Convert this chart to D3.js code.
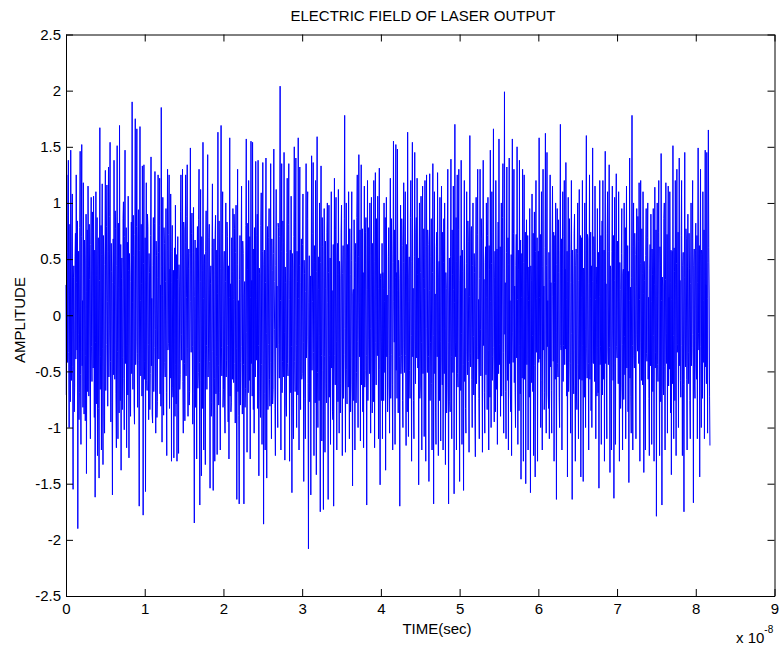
<!DOCTYPE html>
<html>
<head>
<meta charset="utf-8">
<script src="https://cdn.jsdelivr.net/npm/d3@7"></script>
<style>
  body { margin: 0; background: #fff; }
  svg text { font-family: "Liberation Sans", Arial, Helvetica, sans-serif; fill: #000; }
</style>
</head>
<body>
<svg id="chart" width="783" height="647"></svg>
<script>
// Sampled electric field amplitude, one sample every 0.05 ns.
// Split by time span: ampT0 covers 0–1e-8 s, ampT1 covers 1e-8–2e-8 s, and so on.
const sampleStep = 5e-11;

const ampT0 = [
  0.27, -0.71, 1.25, 0.56, -0.42, 0.89, 1.38, -0.33, -1.0, 0.18, 0.81, -0.77, 1.47, 0.41, -0.58, 0.66, 1.08, -0.46, -1.55, 0.34,
  0.44, -0.86, -0.64, 0.52, 0.73, -0.39, 1.25, 0.29, -0.31, 0.84, -1.9, -0.17, 0.57, -0.93, -0.69, 0.78, 1.46, -0.53, -1.15, 0.7,
  1.52, -0.45, 0.13, -0.82, 1.18, 0.26, -0.88, 0.67, 0.49, -0.94, -0.36, 0.9, -1.41, 0.21, 0.76, -0.68, 1.15, 0.43, -0.72, 0.81,
  0.32, -0.55, -1.1, 0.63, 1.05, -0.28, -0.59, 0.92, 0.74, -0.47, 1.06, 0.15, -0.91, 0.58, -1.62, -0.24, 1.1, -0.79, 0.35, 0.87,
  -1.25, 0.42, 0.69, -0.83, -1.45, 0.31, 1.67, -0.66, -0.37, 0.8, -1.2, 0.54, 1.17, -0.3, -1.33, 0.71, 0.52, -0.89, -1.05, 0.45,
  1.29, -0.67, -0.26, 0.79, 1.16, 0.12, -0.81, 0.57, 1.32, -0.55, -0.14, 0.88, 1.54, -0.41, -0.95, 0.64, 0.39, -0.78, -1.6, 0.29,
  0.68, -0.53, 1.38, 0.27, -0.57, 0.93, 0.77, -0.7, -1.18, 0.44, 1.51, -0.32, -1.1, 0.82, 0.25, -0.87, 1.69, 0.16, -0.76, 0.63,
  -1.38, 0.33, 0.51, -0.84, -0.38, 0.86, 1.01, -0.56, -1.02, 0.7, 1.47, -0.43, 0.19, 0.78, -1.18, -0.27, 0.65, -0.71, 1.06, 0.4,
  -1.27, 0.55, 0.36, -0.69, -0.9, 0.3, 0.83, -0.52, 1.9, 0.11, -0.66, 0.89, 0.53, -0.8, -0.97, 0.72, 1.75, -0.44, -0.23, 0.79,
  1.66, -0.34, -0.82, 0.67, 0.94, -0.4, -1.7, 0.58, 1.68, 0.13, -0.54, 0.81, 0.28, -0.72, 1.33, 0.26, -1.78, 0.46, 1.34, -0.57
];
const ampT1 = [
  -0.41, 0.69, -1.57, 0.31, 1.18, -0.58, -0.67, 0.9, 0.79, -0.26, -0.93, 0.55, 0.38, -0.84, -0.52, 0.71, 1.41, -0.45, 0.15, -0.88,
  -0.96, 0.44, 0.87, -0.68, -0.29, 0.82, 1.28, -0.13, -1.05, 0.66, 0.53, -0.91, -0.77, 0.34, 1.25, 0.56, -0.39, 0.8, 1.22, -0.7,
  0.27, -0.81, 1.85, 0.43, -1.13, 0.18, 1.05, -0.57, -0.89, 0.78, 0.64, -0.42, -0.55, 0.3, 0.95, -0.69, -1.25, 0.58, 1.3, -0.31,
  -0.25, 0.72, 1.25, -0.83, 0.41, -0.56, 1.08, 0.29, -1.3, 0.57, 0.8, -0.64, -0.73, 0.4, -1.27, 0.14, 0.6, -0.9, 0.98, -0.44,
  -0.79, 0.54, -1.3, 0.32, 0.7, -0.85, -1.23, 0.45, 0.26, -0.66, -0.53, 0.92, 1.25, -0.17, -0.4, 0.68, 1.3, -0.59, -1.05, 0.83,
  0.76, -0.43, -0.94, 0.65, 1.25, -0.54, 0.16, 0.88, 1.34, -0.3, -0.9, 0.42, 0.59, -0.8, -0.68, 0.55, 1.49, 0.12, -0.33, 0.73,
  0.91, -0.28, -0.97, 0.56, 0.96, -0.7, -1.85, 0.17, 0.67, -0.82, -0.44, 0.6, -1.28, 0.33, 0.79, -0.65, -0.51, 0.85, 1.3, -0.42,
  -1.69, 0.3, 1.12, -0.58, -1.43, 0.7, 0.4, -0.83, 1.54, 0.15, -1.2, 0.46, 0.54, -0.71, -1.33, 0.57, 0.93, -0.27, -0.66, 0.84,
  1.43, -0.55, -0.3, 0.69, 0.81, -0.41, -1.54, 0.28, 0.44, -0.9, -0.78, 0.6, 1.17, -0.32, -1.56, 0.43, 0.68, -0.56, -1.3, 0.72,
  0.89, -0.7, -0.37, 0.58, -1.24, 0.19, 1.63, -0.45, -0.8, 0.84, 0.51, -0.69, -1.2, 0.42, 1.69, -0.29, -0.54, 0.73, 1.1, -0.82
];
const ampT2 = [
  -0.66, 0.43, 0.57, -0.81, -1.05, 0.3, 1.0, -0.55, -0.4, 0.83, 0.7, -0.27, -0.95, 0.44, -1.28, 0.16, 1.58, -0.72, 0.28, -0.86,
  -0.78, 0.69, 0.39, -0.57, 0.95, 0.14, -0.6, 0.9, 0.77, -0.43, -0.96, 0.56, 0.98, -0.3, -1.64, 0.45, 1.3, -0.68, 0.13, -0.89,
  -1.68, 0.32, 0.71, -0.8, -0.42, 0.58, 1.15, -0.28, -0.88, 0.66, 0.55, -0.44, -1.68, 0.18, 0.3, -0.82, -0.65, 0.8, 1.57, -0.15,
  -1.22, 0.41, 0.82, -0.69, 1.2, 0.27, -0.58, 0.7, -1.28, 0.16, 1.55, -0.43, 0.31, -0.72, 1.54, -0.12, -0.84, 0.59, -1.05, 0.78,
  0.67, -0.55, 1.37, 0.14, -0.4, 0.71, 0.9, -0.83, 1.38, -0.27, -1.43, 0.42, 0.37, -0.68, -0.91, 0.8, 1.09, -0.44, -1.15, 0.57,
  1.36, -0.31, -1.86, 0.45, 0.58, -0.7, -1.2, 0.29, 1.4, -0.16, -1.45, 0.56, 0.79, -0.84, -0.26, 0.69, 0.95, -0.57, -0.81, 0.43,
  1.35, -0.42, -1.1, 0.68, 0.4, -0.79, -0.66, 0.55, 1.48, 0.3, -0.13, -0.83, -1.25, 0.44, 1.12, -0.29, 0.26, -0.71, -1.0, 0.82,
  0.78, -0.26, -0.56, 0.7, 2.04, 0.13, -1.2, 0.57, 1.35, -0.69, -0.41, 0.84, 0.65, -0.55, 1.45, -0.15, -1.29, 0.43, 0.29, -0.8,
  -0.9, 0.56, 1.22, -0.43, -0.54, 0.81, 1.35, 0.14, -1.3, 0.31, 0.58, -0.69, 1.06, -0.28, -1.58, 0.55, 0.42, -0.82, -1.1, 0.7,
  1.5, -0.41, -0.68, 0.83, 1.4, -0.27, -1.0, 0.57, 0.3, -0.71, 1.58, 0.15, -1.2, 0.44, 1.32, -0.56, -0.84, 0.29, 0.68, -0.57
];
const ampT3 = [
  -0.52, 0.63, 1.08, -0.24, -1.48, 0.49, 0.37, -0.74, -1.1, 0.21, 1.35, -0.38, -0.19, 0.86, 1.1, -0.61, -2.08, 0.11, 0.53, -0.77,
  -0.64, 0.35, -1.6, 0.26, 1.42, -0.49, 0.12, 0.73, 1.36, -0.33, -1.25, 0.62, 0.47, -0.78, 1.2, 0.19, -1.42, 0.39, 1.59, -0.51,
  -1.0, 0.23, 0.52, -0.76, 1.0, -0.18, -1.75, 0.47, 1.33, -0.36, -1.12, 0.87, 0.61, -0.49, -1.73, 0.34, 0.95, -0.37, -1.22, 0.66,
  0.24, -0.61, -0.78, 0.74, 1.0, 0.11, -1.64, 0.38, 0.98, -0.73, -0.36, 0.51, -1.15, 0.33, 1.1, -0.47, 0.22, -0.86, -0.93, 0.63,
  -1.7, 0.19, 1.22, -0.36, -0.62, 0.76, 1.05, -0.23, -1.2, 0.49, 0.64, -0.77, 1.12, 0.36, -1.05, 0.48, 0.33, -0.87, -0.61, 0.74,
  0.98, -0.22, -1.25, 0.37, 0.62, -0.74, -0.35, 0.86, 1.78, -0.12, -1.22, 0.51, 1.0, -0.48, -0.79, 0.63, 0.49, -0.64, 1.1, -0.26,
  -1.1, 0.77, 0.36, -0.86, -0.62, 0.49, 1.1, -0.38, -1.52, 0.19, 0.23, -0.76, 0.85, 0.34, -1.2, 0.47, 0.64, -0.78, -0.51, 0.87,
  1.25, -0.23, -1.0, 0.52, 1.43, 0.11, -0.37, 0.76, -1.12, 0.26, 1.34, -0.62, 0.18, 0.77, -0.86, 0.38, -1.18, 0.24, 1.15, -0.64,
  -0.49, 0.74, 0.87, -0.36, -1.69, 0.23, 1.2, -0.76, -0.22, 0.78, 0.61, -0.52, 1.0, -0.12, -1.05, 0.63, 1.05, -0.38, -0.87, 0.64,
  0.36, -0.77, 1.2, 0.18, -1.18, 0.48, 1.27, -0.24, -0.62, 0.86, 0.63, -0.36, 1.06, 0.24, -1.1, 0.51, 1.31, -0.48, -1.51, 0.33
];
const ampT4 = [
  0.37, -0.23, -0.76, 0.64, -1.1, 0.38, 0.24, -0.76, 1.0, 0.12, -0.51, 0.87, -1.38, 0.26, 1.05, -0.37, 0.18, -0.86, -0.63, 0.52,
  0.78, -0.36, -1.05, 0.23, 1.22, -0.74, -0.35, 0.86, 0.51, -0.62, -1.2, 0.47, 1.55, 0.12, -0.24, 0.76, -1.15, 0.34, 1.52, -0.49,
  0.38, -0.74, 1.48, 0.22, -0.87, 0.49, 0.33, -0.37, -1.7, 0.18, 0.98, -0.52, -0.36, 0.86, 0.62, -0.76, -1.0, 0.47, 1.18, -0.24,
  -0.51, 0.76, 1.1, -0.36, -1.16, 0.63, 0.37, -0.86, 1.63, 0.12, -1.08, 0.34, 0.52, -0.49, -0.74, 0.87, 1.2, -0.18, -1.3, 0.48,
  1.54, -0.37, 0.24, -0.76, -1.1, 0.52, 1.45, -0.23, -0.61, 0.74, 0.87, -0.38, 1.22, 0.36, -0.47, 0.51, -1.51, 0.19, 1.0, -0.74,
  -0.63, 0.38, 1.06, -0.24, -1.2, 0.76, 1.15, -0.52, 0.33, 0.77, -1.08, 0.24, 1.2, -0.47, -1.3, 0.61, 1.25, -0.12, -0.51, 0.76,
  0.63, -0.37, -1.48, 0.22, 1.26, -0.76, -0.24, 0.52, 0.86, -0.61, -1.2, 0.38, 1.35, -0.18, -1.68, 0.36, 1.1, -0.52, 0.19, -0.87,
  -1.15, 0.61, 0.74, -0.37, 1.27, 0.12, -1.25, 0.34, 0.48, -0.76, 1.05, -0.23, -1.12, 0.52, 1.15, -0.38, -0.62, 0.74, -1.2, 0.47,
  0.86, -0.52, 1.0, -0.12, -1.33, 0.38, 0.24, -0.87, -0.64, 0.76, 1.3, -0.24, -1.68, 0.18, 0.51, -0.77, -0.86, 0.52, 1.39, -0.37,
  -1.1, 0.76, 0.36, -0.51, 1.15, 0.23, -1.59, 0.11, 1.7, -0.24, -0.37, 0.87, -1.2, 0.48, 1.25, -0.52, -0.64, 0.76, 1.3, -0.38
];
const ampT5 = [
  -1.48, 0.31, 0.53, -0.67, 1.38, -0.16, -1.15, 0.58, 0.39, -0.44, -1.56, 0.27, 1.2, -0.59, 0.24, -0.83, -1.05, 0.46, 1.1, -0.32,
  -0.53, 0.84, 0.66, -0.41, -1.22, 0.17, 1.6, -0.34, -0.46, 0.73, 0.79, -0.57, -1.0, 0.44, 1.0, -0.19, -0.71, 0.55, 0.38, -0.88,
  -1.26, 0.43, 1.05, -0.61, -0.28, 0.72, 1.3, -0.39, 0.14, -0.74, -1.1, 0.33, 1.3, -0.13, -0.54, 0.86, 0.68, -0.46, -1.22, 0.59,
  1.38, -0.27, 0.32, -0.69, -1.05, 0.47, 0.61, -0.53, 1.0, 0.16, -0.84, 0.71, 1.05, -0.31, -1.2, 0.62, 0.41, -0.73, 1.47, 0.12,
  -1.0, 0.46, 1.1, -0.58, -0.37, 0.74, 1.66, -0.29, -0.95, 0.34, 0.57, -0.86, 1.2, 0.18, -0.66, 0.59, -1.15, 0.26, 0.83, -0.52,
  1.57, -0.44, -0.26, 0.61, -0.9, 0.31, 1.0, -0.72, -0.14, 0.87, 1.35, -0.33, -1.05, 0.42, 1.99, -0.17, 0.29, -0.68, -1.1, 0.56,
  1.32, -0.31, -0.58, 0.69, -1.2, 0.45, 1.4, -0.43, 0.13, -0.71, -0.86, 0.54, -1.25, 0.28, 1.57, -0.15, -0.42, 0.73, 1.3, -0.6,
  0.26, -0.69, -1.0, 0.44, 0.72, -0.38, 1.5, 0.14, -1.15, 0.58, 0.41, -0.85, 1.38, -0.27, -0.7, 0.67, -1.46, 0.16, 0.55, -0.56,
  1.3, -0.32, -1.3, 0.47, 1.25, -0.57, -0.29, 0.74, -1.5, 0.28, 0.85, -0.44, 0.17, 0.71, -1.2, 0.13, 0.43, -0.73, 0.95, -0.3,
  -1.58, 0.44, 0.31, -0.6, 1.08, -0.18, -0.68, 0.73, -1.25, 0.29, 0.92, -0.45, -1.44, 0.57, 1.2, -0.33, 0.15, 0.69, -1.3, 0.41
];
const ampT6 = [
  0.57, -0.42, 1.58, 0.16, -0.39, 0.72, -1.0, 0.27, 1.1, -0.58, -1.2, 0.43, 1.3, -0.31, 0.26, -0.84, -0.69, 0.6, 1.62, -0.14,
  -1.05, 0.44, 1.45, -0.28, 0.13, -0.71, -0.83, 0.56, -1.1, 0.32, 1.25, -0.46, 0.29, -0.67, -1.05, 0.59, 1.15, 0.17, -0.41, 0.74,
  -1.3, 0.29, 0.71, -0.57, 1.0, -0.15, -1.64, 0.45, 0.95, -0.43, -0.55, 0.85, 0.38, -0.73, -1.0, 0.58, 1.7, -0.27, -0.31, 0.68,
  -1.2, 0.42, 1.1, -0.59, -0.27, 0.7, 1.2, -0.44, 0.41, -0.3, 1.36, 0.14, -0.72, 0.57, -1.44, 0.3, 1.05, -0.68, -0.42, 0.86,
  0.56, -0.43, -1.05, 0.29, 1.2, -0.16, -1.64, 0.58, 0.28, -0.55, -0.7, 0.73, 0.9, -0.31, -1.3, 0.44, 0.59, -0.72, -0.84, 0.55,
  1.0, -0.44, -1.1, 0.31, 1.12, -0.57, -0.29, 0.71, -1.44, 0.16, 0.69, -0.58, 1.2, -0.27, -1.48, 0.42, 0.39, -0.73, 1.0, -0.13,
  -1.0, 0.58, 1.6, -0.3, -0.56, 0.72, 0.68, -0.43, -1.2, 0.28, 1.25, -0.57, 0.15, 0.74, -0.85, 0.44, -1.0, 0.3, 1.49, -0.42,
  -0.43, 0.7, 0.57, -0.59, 1.15, 0.14, -1.1, 0.43, 0.27, -0.72, 0.95, -0.29, -0.69, 0.56, -1.54, 0.17, 1.2, -0.44, -0.28, 0.71,
  -1.15, 0.42, 0.84, -0.71, 1.2, -0.15, -0.57, 0.58, -1.3, 0.3, 1.46, -0.43, 0.28, -0.56, -1.1, 0.73, 1.1, -0.3, -0.44, 0.57,
  1.34, -0.29, -1.4, 0.44, 0.41, -0.7, -1.2, 0.57, 1.15, -0.14, -0.58, 0.71, -1.63, 0.31, 1.05, -0.43, -1.15, 0.59, 1.26, -0.28
];
const ampT7 = [
  -0.38, 0.66, 0.52, -0.61, 1.1, 0.12, -1.3, 0.47, 0.23, -0.83, -0.64, 0.55, 0.95, -0.26, -1.2, 0.37, 0.41, -0.75, 1.0, -0.19,
  -0.53, 0.78, -1.1, 0.33, 1.15, -0.47, 0.18, 0.62, -0.86, 0.39, -1.49, 0.13, 1.4, -0.56, 0.25, -0.72, -1.05, 0.34, 1.78, -0.27,
  -1.2, 0.61, 1.0, -0.36, -0.47, 0.73, 0.54, -0.63, -1.1, 0.26, 0.95, -0.17, -0.32, 0.88, 0.66, -0.43, 1.18, 0.14, -1.3, 0.46,
  1.2, -0.24, -0.58, 0.77, 0.37, -0.62, 1.1, 0.19, -1.4, 0.48, 0.31, -0.76, -1.2, 0.53, 0.95, -0.34, -0.41, 0.69, 1.0, -0.57,
  0.16, -0.74, -1.25, 0.42, 0.63, -0.45, 0.9, 0.12, -1.15, 0.59, 0.36, -0.68, 0.95, -0.18, -1.3, 0.27, 1.14, -0.47, -0.33, 0.76,
  -1.79, 0.17, 1.0, -0.44, -0.59, 0.74, 1.2, -0.31, -1.25, 0.61, 0.44, -0.77, 1.44, 0.13, -1.69, 0.34, 0.26, -0.62, -0.71, 0.86,
  1.0, -0.46, -1.2, 0.32, 1.18, -0.16, -0.43, 0.72, -1.05, 0.41, 1.15, -0.63, 0.16, -0.48, 1.1, 0.29, -0.87, 0.58, -1.42, 0.14,
  0.57, -0.61, 1.51, -0.18, -1.1, 0.6, 0.39, -0.76, 1.2, 0.27, -1.25, 0.46, 1.3, -0.33, -0.26, 0.74, -1.0, 0.17, 1.4, -0.45,
  0.31, -0.58, -0.73, 0.71, 1.2, -0.27, -1.25, 0.44, 0.56, -0.62, -1.75, 0.34, 1.45, -0.14, -0.46, 0.77, 0.68, -0.57, -1.2, 0.43,
  0.9, -0.33, -0.61, 0.73, 0.42, -0.76, -1.1, 0.28, 1.0, -0.45, -0.29, 0.68, 1.2, -0.17, -1.67, 0.44, 0.59, -0.63, -0.74, 0.58
];
const ampT8 = [
  0.82, -0.44, -0.57, 0.71, -1.1, 0.29, 1.49, -0.16, -0.31, 0.62, -1.44, 0.43, 1.3, -0.28, -1.0, 0.58, 0.54, -0.74, 1.1, 0.13,
  -0.42, 0.76, -1.1, 0.33, 1.47, -0.46, 0.27, -0.61, 1.45, 0.15, -1.05, 0.47, 1.65, 0.6, 0.18, -0.72, -1.16
];

const xTicks = [0, 1, 2, 3, 4, 5, 6, 7, 8, 9];            // in units of 1e-8 s
const yTicks = [-2.5, -2, -1.5, -1, -0.5, 0, 0.5, 1, 1.5, 2, 2.5];
const xUnit = 1e-8;

const titleText = "ELECTRIC FIELD OF LASER OUTPUT";
const xLabelText = "TIME(sec)";
const yLabelText = "AMPLITUDE";

// ---- assemble the series ----
const amplitude = [].concat(ampT0, ampT1, ampT2, ampT3, ampT4, ampT5, ampT6, ampT7, ampT8);
const samples = amplitude.map((v, i) => ({ t: i * sampleStep, v: v }));

// ---- layout ----
const plot = { left: 66, right: 774.5, top: 34.5, bottom: 596 };
const FS = 15;

const svg = d3.select("#chart");

const x = d3.scaleLinear().domain([0, 9 * xUnit]).range([plot.left, plot.right]);
const y = d3.scaleLinear().domain([-2.5, 2.5]).range([plot.bottom, plot.top]);

// signal trace
const line = d3.line()
  .x(d => x(d.t))
  .y(d => y(d.v));

svg.append("path")
  .datum(samples)
  .attr("fill", "none")
  .attr("stroke", "#0000ff")
  .attr("stroke-width", 1)
  .attr("d", line);

// axes: ticks point inward on all four sides, labels on bottom and left
const tickLen = 7;
const xTickVals = xTicks.map(k => k * xUnit);

function styleAxis(g) {
  g.attr("font-size", FS).attr("font-family", null);
  g.selectAll("path.domain").attr("stroke", "#000").attr("stroke-width", 1);
  g.selectAll(".tick line").attr("stroke", "#000").attr("stroke-width", 1);
  g.selectAll(".tick text").attr("fill", "#000");
}

svg.append("g")
  .attr("transform", `translate(0,${plot.bottom})`)
  .call(d3.axisBottom(x).tickValues(xTickVals).tickFormat(d => d3.format("d")(Math.round(d / xUnit)))
    .tickSizeInner(-tickLen).tickSizeOuter(0).tickPadding(7))
  .call(styleAxis);

svg.append("g")
  .attr("transform", `translate(0,${plot.top})`)
  .call(d3.axisTop(x).tickValues(xTickVals).tickFormat("")
    .tickSizeInner(-tickLen).tickSizeOuter(0))
  .call(styleAxis);

svg.append("g")
  .attr("transform", `translate(${plot.left},0)`)
  .call(d3.axisLeft(y).tickValues(yTicks).tickFormat(d => String(d))
    .tickSizeInner(-tickLen).tickSizeOuter(0).tickPadding(5))
  .call(styleAxis);

svg.append("g")
  .attr("transform", `translate(${plot.right},0)`)
  .call(d3.axisRight(y).tickValues(yTicks).tickFormat("")
    .tickSizeInner(-tickLen).tickSizeOuter(0))
  .call(styleAxis);

// titles
svg.append("text")
  .attr("x", 423).attr("y", 21)
  .attr("text-anchor", "middle")
  .attr("font-size", FS)
  .text(titleText);

svg.append("text")
  .attr("x", 437).attr("y", 634)
  .attr("text-anchor", "middle")
  .attr("font-size", FS)
  .text(xLabelText);

svg.append("text")
  .attr("transform", "translate(25,320) rotate(-90)")
  .attr("text-anchor", "middle")
  .attr("font-size", FS)
  .text(yLabelText);

// exponent marker for the time axis
const expo = svg.append("text")
  .attr("x", 736).attr("y", 643)
  .attr("font-size", FS);
expo.append("tspan").text("x 10");
expo.append("tspan").attr("dy", -10).attr("font-size", 10).text("-8");
</script>
</body>
</html>
